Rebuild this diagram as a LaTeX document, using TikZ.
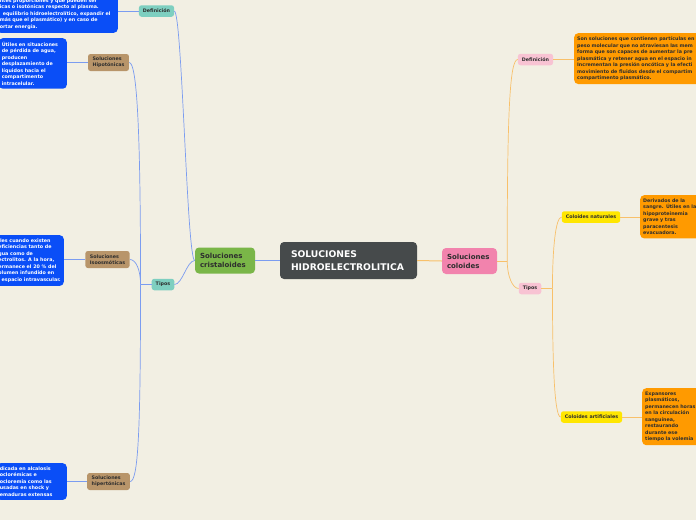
\documentclass[tikz,border=0pt]{standalone}
\usepackage{fontspec}
\setmainfont{DejaVu Sans}
\usetikzlibrary{positioning}
\definecolor{paper}{HTML}{F2EFE3}
\definecolor{hubgray}{HTML}{464A4B}
\definecolor{cristgreen}{HTML}{7AB648}
\definecolor{colopink}{HTML}{F283AD}
\definecolor{tagteal}{HTML}{7ECFC0}
\definecolor{tagpink}{HTML}{F8C3D3}
\definecolor{kindtan}{HTML}{B8956A}
\definecolor{natyellow}{HTML}{FFE600}
\definecolor{noteblue}{HTML}{0A4EF7}
\definecolor{noteorange}{HTML}{FF9A00}
\definecolor{blueline}{HTML}{7B9CF0}
\definecolor{orangeline}{HTML}{F8C06A}
\definecolor{ink}{HTML}{2E2E2E}
\begin{document}
\begin{tikzpicture}[
    x=1pt, y=-1pt,
    hub/.style={fill=hubgray, rounded corners=4pt, text=white, align=left,
      text width=115pt, inner xsep=11pt, minimum width=137pt, minimum height=37pt,
      font=\fontsize{9.2}{12.5}\selectfont\bfseries},
    side/.style={rounded corners=4pt, text=ink, align=left, inner xsep=5pt,
      minimum height=26pt, font=\fontsize{7}{9}\selectfont\bfseries},
    tag/.style={rounded corners=2.5pt, text=ink, inner xsep=4pt, inner ysep=0pt,
      minimum height=11.5pt, font=\fontsize{4.8}{6}\selectfont\bfseries},
    kind/.style={tag, fill=kindtan, align=left, minimum height=17pt, inner xsep=4.5pt},
    note/.style={rounded corners=4pt, align=left, inner xsep=3pt, inner ysep=3.5pt,
      font=\fontsize{4.8}{6.5}\selectfont\bfseries},
    bluenote/.style={note, fill=noteblue, text=white},
    orangenote/.style={note, fill=noteorange, text=ink, text width=200pt},
    bline/.style={draw=blueline, line width=.7pt},
    oline/.style={draw=orangeline, line width=.7pt}
  ]
  \useasboundingbox (0,0) rectangle (696,520);
  \clip (0,0) rectangle (696,520);
  \fill[paper] (0,0) rectangle (696,520);

  \node (main) [hub] at (348.5,260.5) {SOLUCIONES\\HIDROELECTROLITICA};
  \node (crist) [side, fill=cristgreen, text width=50pt, minimum width=60pt] at (225,260.5) {Soluciones\\cristaloides};
  \node (colo) [side, fill=colopink, text width=45pt, minimum width=55pt] at (469.5,261) {Soluciones\\coloides};

  \node (defL) [tag, fill=tagteal] at (156.5,11) {Definición};
  \node (tiposL) [tag, fill=tagteal] at (163,284.5) {Tipos};
  \node (hipo) [kind] at (108.5,62.5) {Soluciones\\Hipotónicas};
  \node (iso) [kind] at (107.5,259.5) {Soluciones\\Isoosmóticas};
  \node (hiper) [kind] at (108.5,481.5) {Soluciones\\hipertónicas};

  \node (deftxt) [bluenote, text width=115pt, anchor=south east] at (118,33) {ntes proporciones y que pueden ser\\icas o isotónicas respecto al plasma.\\\hspace*{3pt}equilibrio hidroelectrolítico, expandir el\\más que el plasmático) y en caso de\\ortar energía.};
  \node (hipotxt) [bluenote, text width=62pt, anchor=north east] at (67,38) {Útiles en situaciones\\de pérdida de agua,\\producen\\desplazamiento de\\líquidos hacia el\\compartimento\\intracelular.};
  \node (isotxt) [bluenote, anchor=north east] at (64,235) {iles cuando existen\\eficiencias tanto de\\gua como de\\ectrolitos. A la hora,\\ermanece el 20 \% del\\olumen infundido en\\l espacio intravascular.};
  \node (hipertxt) [bluenote, text width=64pt, anchor=north east] at (67,463) {dicada en alcalosis\\oclorémicas e\\ocloremia como las\\usadas en shock y\\emaduras extensas};

  \node (defR) [tag, fill=tagpink] at (535.5,59.5) {Definición};
  \node (tiposR) [tag, fill=tagpink] at (530,288.5) {Tipos};
  \node (nat) [tag, fill=natyellow] at (591,217) {Coloides naturales};
  \node (art) [tag, fill=natyellow] at (591.5,417) {Coloides artificiales};

  \node (coltxt) [orangenote, anchor=north west] at (574,33) {Son soluciones que contienen partículas en\\peso molecular que no atraviesan las mem\\forma que son capaces de aumentar la pre\\plasmática y retener agua en el espacio in\\Incrementan la presión oncótica y la efecti\\movimiento de fluidos desde el compartim\\compartimento plasmático.};
  \node (nattxt) [orangenote, anchor=north west] at (640,195) {Derivados de la\\sangre. Útiles en la\\hipoproteinemia\\grave y tras\\paracentesis\\evacuadora.};
  \node (arttxt) [orangenote, anchor=north west] at (642,388) {Expansores\\plasmáticos,\\permanecen horas\\en la circulación\\sanguínea,\\restaurando\\durante ese\\tiempo la volemia};

  \draw[bline, line width=1pt] (main.west) -- (crist.east);
  \draw[bline] (crist.west) .. controls +(-8,0) and +(8,0) .. (defL.east);
  \draw[bline] (crist.west) .. controls +(-8,0) and +(8,0) .. (tiposL.east);
  \coordinate[left=11pt of tiposL.west] (tj);
  \draw[bline, line width=1.8pt] (tiposL.west) -- (tj);
  \draw[bline] (tj) .. controls +(0,-150) and +(8,0) .. (hipo.east);
  \draw[bline] (tj) .. controls +(0,-15) and +(6,0) .. (iso.east);
  \draw[bline] (tj) .. controls +(0,150) and +(8,0) .. (hiper.east);
  \draw[bline] (defL.west) -- (defL.west -| deftxt.east);
  \draw[bline] (hipo.west) -- (hipo.west -| hipotxt.east);
  \draw[bline] (iso.west) -- (iso.west -| isotxt.east);
  \draw[bline] (hiper.west) -- (hiper.west -| hipertxt.east);

  \draw[oline, line width=1pt] (main.east) -- (colo.west);
  \coordinate[right=10pt of colo.east] (cj);
  \draw[oline] (colo.east) -- (cj);
  \draw[oline] (cj) .. controls +(0,-150) and +(-8,0) .. (defR.west);
  \draw[oline] (cj) .. controls +(0,15) and +(-6,0) .. (tiposR.west);
  \coordinate[right=11pt of tiposR.east] (tj2);
  \draw[oline, line width=1.3pt] (tiposR.east) -- (tj2);
  \draw[oline] (tj2) .. controls +(0,-40) and +(-6,0) .. (nat.west);
  \draw[oline] (tj2) .. controls +(0,80) and +(-6,0) .. (art.west);
  \draw[oline] (defR.east) -- (defR.east -| coltxt.west);
  \draw[oline] (nat.east) -- (nat.east -| nattxt.west);
  \draw[oline] (art.east) -- (art.east -| arttxt.west);
\end{tikzpicture}
\end{document}
